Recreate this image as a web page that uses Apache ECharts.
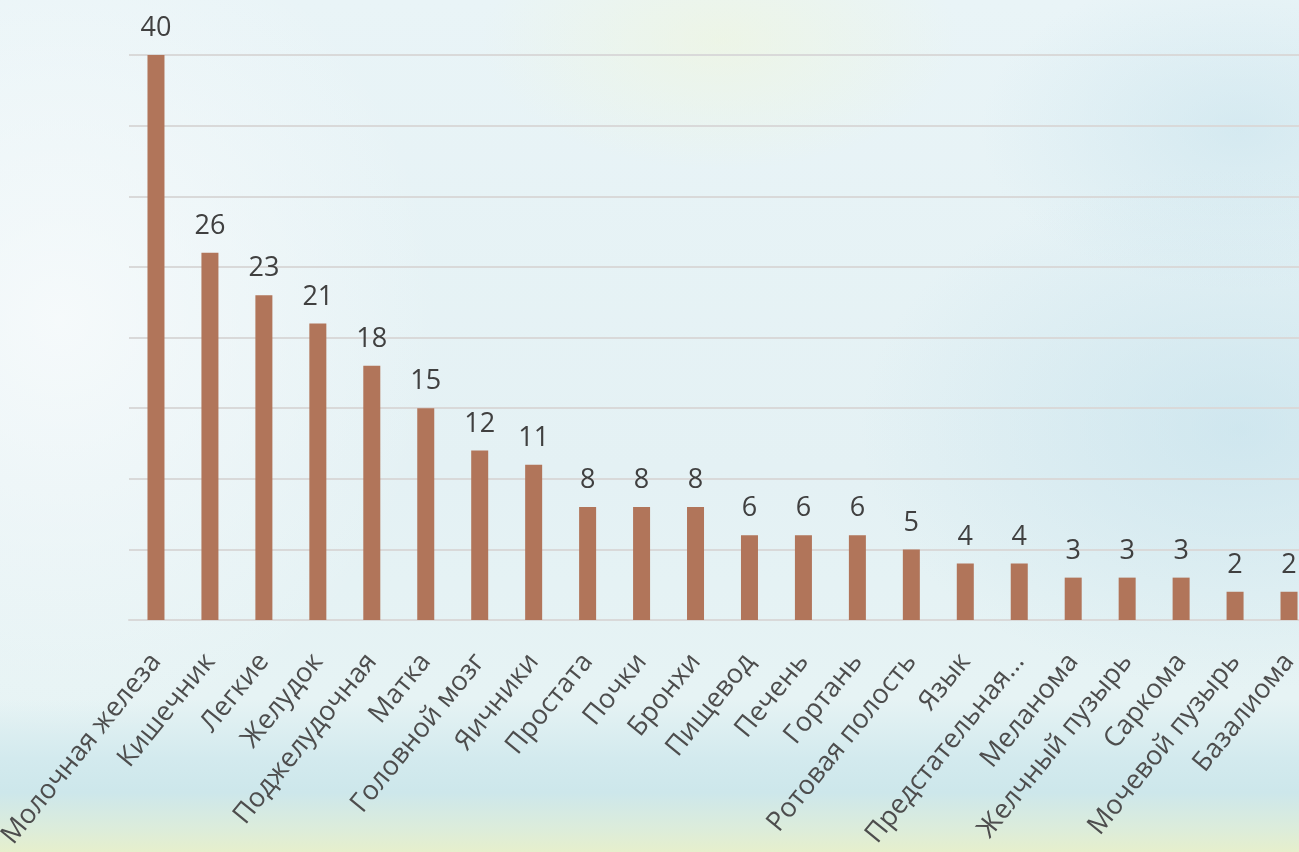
<!DOCTYPE html>
<html>
<head>
<meta charset="utf-8">
<script src="https://cdn.jsdelivr.net/npm/echarts@6/dist/echarts.min.js"></script>
<style>
  html, body { margin:0; padding:0; width:1299px; height:852px; overflow:hidden; }
  body {
    background:
      radial-gradient(ellipse 380px 260px at 1240px 430px, rgba(190,222,234,0.55), rgba(190,222,234,0) 100%),
      radial-gradient(ellipse 260px 160px at 1240px 130px, rgba(190,222,234,0.45), rgba(190,222,234,0) 100%),
      radial-gradient(ellipse 240px 130px at 720px 40px, rgba(240,246,220,0.6), rgba(240,246,220,0) 100%),
      radial-gradient(ellipse 380px 420px at 60px 320px, rgba(248,251,252,0.85), rgba(248,251,252,0) 100%),
      linear-gradient(to bottom, #e9f4f7 0%, #e4f1f4 55%, #e6f3f4 82%, #d3eaee 89%, #cde7eb 93%, #dbecdc 97%, #e6efcc 100%);
  }
  #chart { width:1299px; height:852px; }
</style>
</head>
<body>
<div id="chart"></div>
<script>
const categories = ["Молочная железа","Кишечник","Легкие","Желудок","Поджелудочная","Матка","Головной мозг","Яичники","Простата","Почки","Бронхи","Пищевод","Печень","Гортань","Ротовая полость","Язык","Предстательная...","Меланома","Желчный пузырь","Саркома","Мочевой пузырь","Базалиома"];
const values = [40,26,23,21,18,15,12,11,8,8,8,6,6,6,5,4,4,3,3,3,2,2];
const yMin = 0, yMax = 40, yStep = 5;

const chart = echarts.init(document.getElementById('chart'), null, {renderer:'canvas'});
chart.setOption({
  backgroundColor: 'transparent',
  animation: false,
  textStyle: { fontFamily: 'Open Sans' },
  grid: { left: 129, right: -17, top: 55, bottom: 232, containLabel: false, outerBoundsMode: 'none' },
  xAxis: {
    type: 'category',
    data: categories,
    axisLine: { show: true, lineStyle: { color: '#d9d9d9', width: 2 } },
    axisTick: { show: false },
    axisLabel: { interval: 0, rotate: 51, fontSize: 27, color: '#4d4d4d', margin: 37, fontFamily: 'Open Sans' }
  },
  yAxis: {
    type: 'value', min: yMin, max: yMax, interval: yStep,
    axisLabel: { show: false },
    axisLine: { show: false }, axisTick: { show: false },
    splitLine: { lineStyle: { color: '#d9d9d9', width: 2 } }
  },
  series: [{
    type: 'bar',
    data: values,
    barWidth: 17,
    itemStyle: { color: '#b1755a' },
    label: { show: true, position: 'top', distance: 13, fontSize: 27, color: '#404040', fontFamily: 'Open Sans' }
  }]
});
</script>
</body>
</html>
